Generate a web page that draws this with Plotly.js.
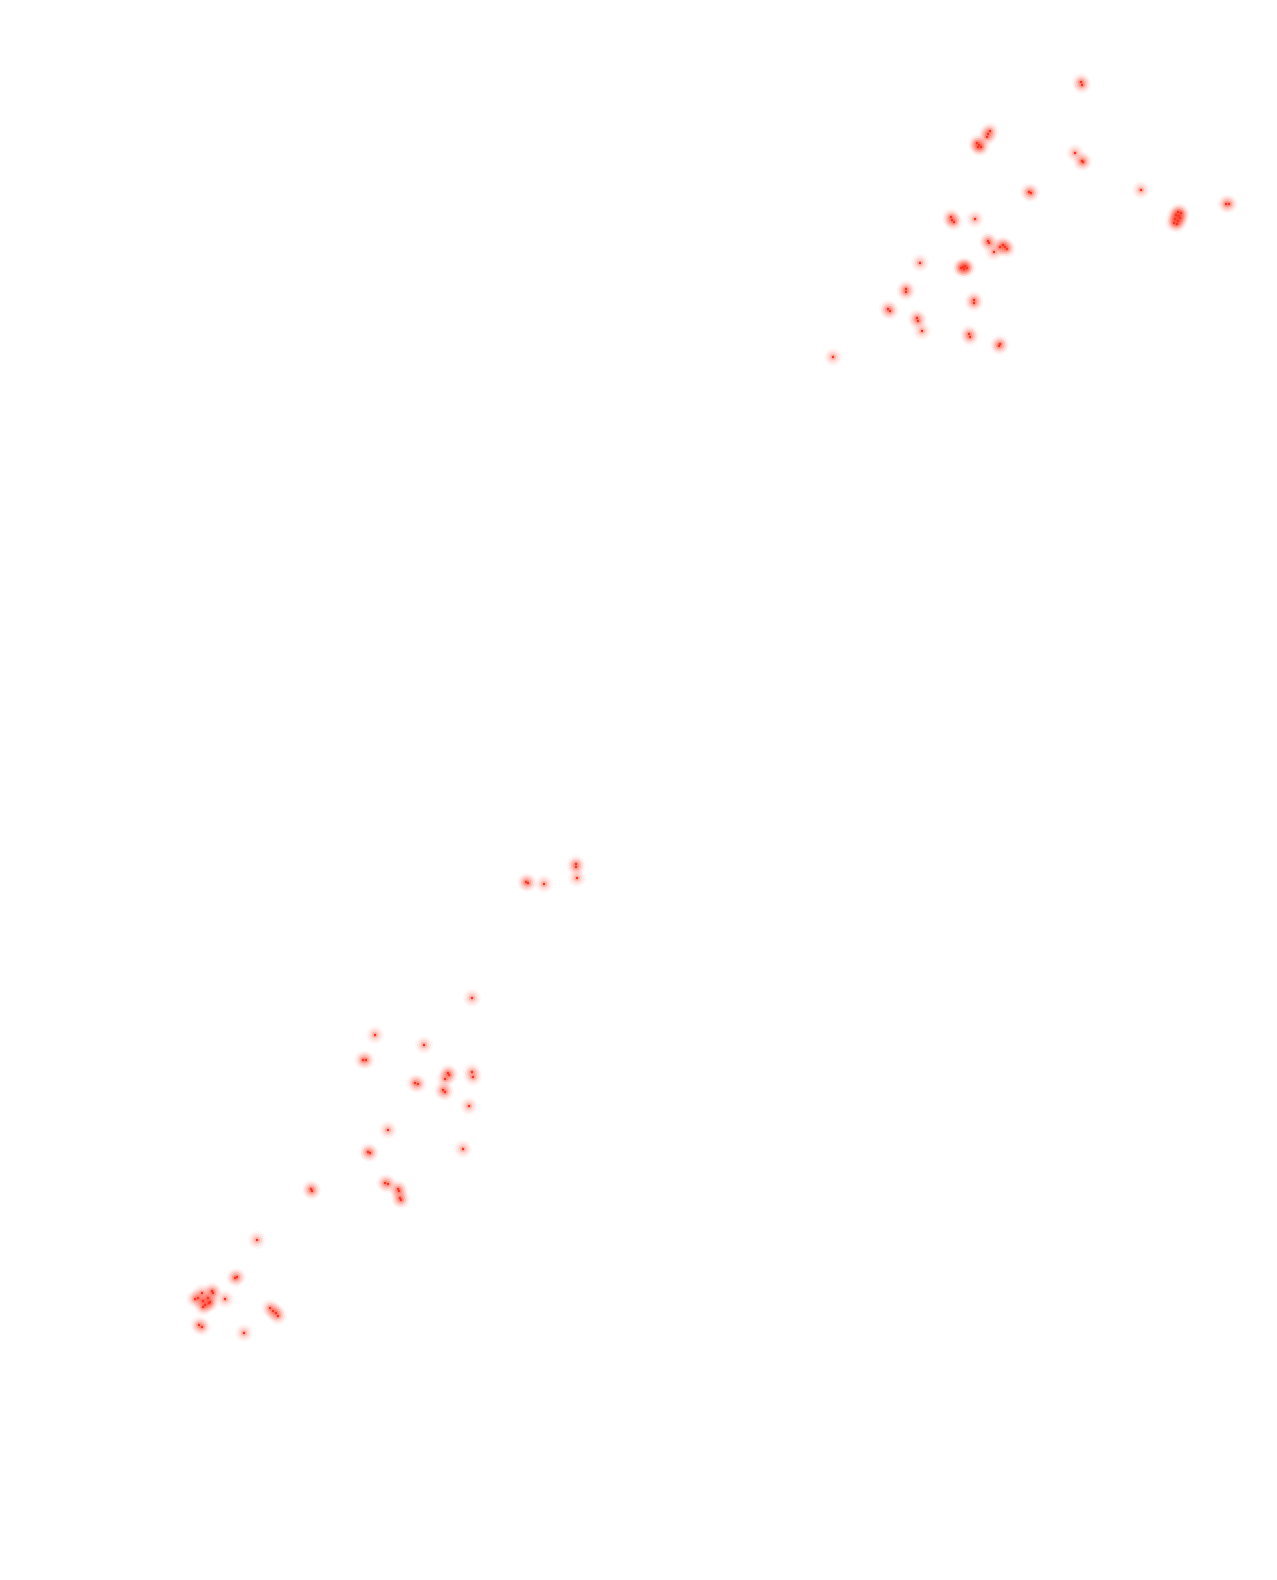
<!DOCTYPE html>
<html>
<head>
<meta charset="utf-8">
<script src="https://cdn.plot.ly/plotly-3.0.1.min.js"></script>
<style>html,body{margin:0;padding:0;background:#fff;}#chart{width:1277px;height:1580px;}</style>
</head>
<body>
<div id="chart"></div>
<script>
const xs = [1081,1082, 990,988,987, 977,979,981,978, 1075, 1082,1083, 1029,1031, 1141, 1226,1229,
  1178,1181,1176,1179,1175,1178,1174,1177,1180, 951,952,954, 975, 988,989, 994,
  1000,1003,1005,1007, 961,963,965,967,964, 974,974, 969,970, 999,1000, 920, 906,906, 888,890,
  917,918, 922, 833,
  526,528, 544, 576,576, 577, 472, 375, 424, 363,366, 415,418, 448,449, 445, 443,445, 472,473,
  469, 388, 368,370, 463, 385,388, 398,399, 400,401, 311,312, 257, 235,237,
  195,198,202,203,208,210,212,213,205,203,209, 225, 199,202, 270,276,278,273, 244];
const ys = [82,85, 131,134,137, 143,145,147,147, 153, 161,162, 192,193, 190, 204,204,
  212,213,215,216,219,221,223,224,218, 217,220,222, 219, 241,243, 252,
  247,245,247,249, 268,267,266,268,269, 300,303, 334,337, 346,344, 263, 289,292, 309,311,
  318,321, 331, 357,
  882,883, 884, 864,867, 878, 998, 1035, 1045, 1060,1060, 1083,1084, 1073,1075, 1079, 1090,1092, 1072,1077,
  1106, 1130, 1152,1153, 1149, 1183,1184, 1189,1191, 1198,1200, 1189,1191, 1240, 1278,1277,
  1299,1298,1293,1301,1298,1302,1291,1293,1305,1307,1303, 1299, 1325,1327, 1308,1313,1316,1311, 1333];

const layers = [
  {size: 18, color: 'rgba(255,60,40,0.045)'},
  {size: 14, color: 'rgba(255,60,40,0.07)'},
  {size: 10, color: 'rgba(255,60,40,0.11)'},
  {size: 6, color: 'rgba(255,55,35,0.2)'},
  {size: 2.5, color: '#ff3322'}
];
const traces = layers.map(l => ({
  type: 'scatter', mode: 'markers', x: xs, y: ys, hoverinfo: 'skip',
  marker: {size: l.size, color: l.color, line: {width: 0}}
}));
const layout = {
  width: 1277, height: 1580,
  margin: {l: 0, r: 0, t: 0, b: 0},
  paper_bgcolor: '#fff', plot_bgcolor: '#fff',
  showlegend: false,
  xaxis: {range: [0, 1277], visible: false, showgrid: false, zeroline: false},
  yaxis: {range: [1580, 0], visible: false, showgrid: false, zeroline: false}
};
Plotly.newPlot('chart', traces, layout, {displayModeBar: false, staticPlot: true});
</script>
</body>
</html>
